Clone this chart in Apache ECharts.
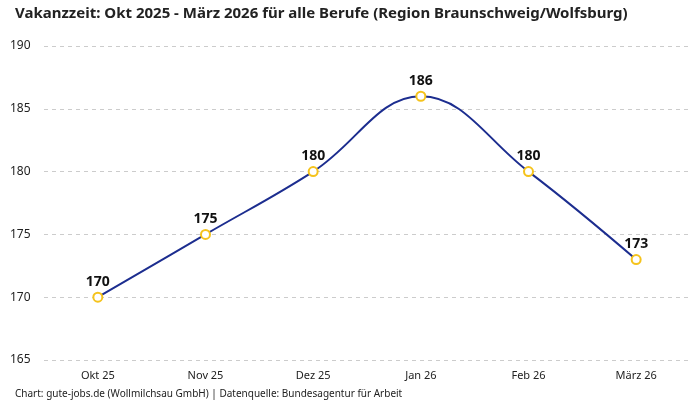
<!DOCTYPE html>
<html>
<head>
<meta charset="utf-8">
<script src="https://cdn.jsdelivr.net/npm/echarts@6/dist/echarts.min.js"></script>
<style>
  html, body { margin: 0; padding: 0; background: #fff; }
  #chart { width: 700px; height: 400px; }
</style>
</head>
<body>
<div id="chart"></div>
<script>
// Monate und Vakanzzeit in Tagen
const months = ['Okt 25', 'Nov 25', 'Dez 25', 'Jan 26', 'Feb 26', 'März 26']
const vacancyDays = [170, 175, 180, 186, 180, 173]
const yTicks = { min: 165, max: 190, step: 5 }

const font = '"Noto Sans", "Open Sans", sans-serif'

const chart = echarts.init(document.getElementById('chart'))
chart.setOption({
  animation: false,
  textStyle: { fontFamily: font },
  title: [
    {
      text: 'Vakanzzeit: Okt 2025 - März 2026 für alle Berufe (Region Braunschweig/Wolfsburg)',
      left: 10, top: 1,
      textStyle: { fontSize: 15, fontWeight: 'bold', color: '#222', fontFamily: font }
    },
    {
      text: 'Chart: gute-jobs.de (Wollmilchsau GmbH) | Datenquelle: Bundesagentur für Arbeit',
      left: 10, top: 384,
      textStyle: { fontSize: 10, fontWeight: 'normal', color: '#222', fontFamily: font }
    }
  ],
  grid: { left: 44, right: 10, top: 46, bottom: 40 },
  xAxis: {
    type: 'category',
    data: months,
    axisLine: { show: false },
    axisTick: { show: false },
    axisLabel: { color: '#222', fontSize: 11, margin: 10 }
  },
  yAxis: {
    type: 'value',
    min: yTicks.min,
    max: yTicks.max,
    interval: yTicks.step,
    axisLabel: { color: '#222', fontSize: 12, align: 'left', margin: 34 },
    splitLine: { lineStyle: { type: [4, 4], color: '#cccccc' } }
  },
  series: [{
    type: 'line',
    data: vacancyDays,
    smooth: 0.4,
    symbol: 'circle',
    symbolSize: 9,
    lineStyle: { color: '#1c2d8f', width: 2 },
    itemStyle: { color: '#ffffff', borderColor: '#f5c31c', borderWidth: 2 },
    label: {
      show: true,
      position: 'top',
      distance: 3,
      color: '#111',
      fontSize: 14,
      fontWeight: 'bold'
    }
  }]
})
</script>
</body>
</html>
